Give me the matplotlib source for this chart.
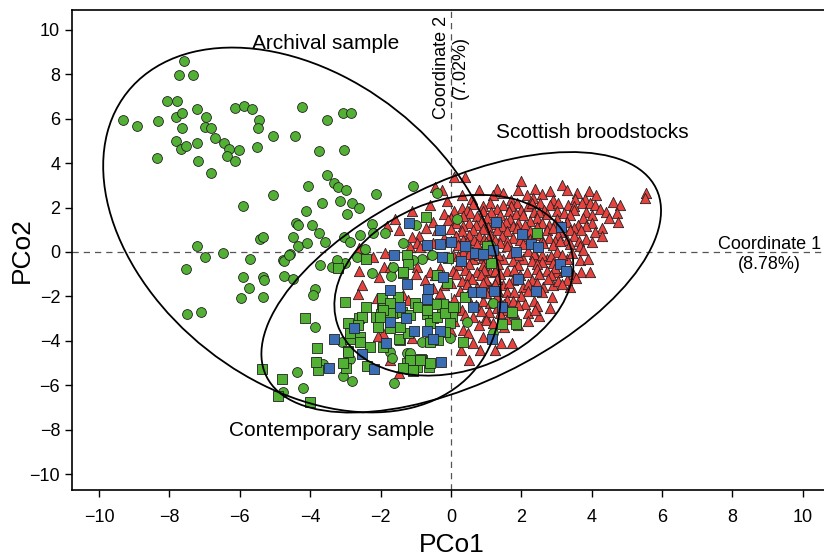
import numpy as np
import matplotlib
matplotlib.use("Agg")
import matplotlib.pyplot as plt
from matplotlib.patches import Ellipse

plt.rcParams['font.family'] = ['Liberation Sans', 'DejaVu Sans']

# green circles (archival sample, plus a few wild fish in the contemporary cloud)
circles = np.array([
    (-7.59, 8.60), (-7.73, 7.97), (-7.33, 7.97), (-8.07, 6.80), (-7.78, 6.80), (-9.32, 5.95),
    (-8.92, 5.68), (-8.32, 5.90), (-7.81, 6.08), (-7.64, 6.26), (-7.64, 5.59), (-7.22, 6.44),
    (-6.96, 6.08), (-6.99, 5.63), (-6.82, 5.59), (-7.81, 5.00), (-7.67, 4.64), (-7.53, 4.77),
    (-7.22, 4.91), (-6.70, 5.14), (-6.45, 4.91), (-6.31, 4.64), (-6.36, 4.32), (-6.14, 4.10),
    (-6.02, 4.59), (-8.35, 4.23), (-7.19, 4.10), (-6.82, 3.56), (-6.14, 6.49), (-5.88, 6.58),
    (-5.65, 6.44), (-5.45, 5.95), (-5.48, 5.59), (-5.51, 4.73), (-5.06, 5.23), (-4.43, 5.23),
    (-4.23, 6.53), (-3.52, 5.95), (-3.07, 6.26), (-2.84, 6.26), (-3.75, 4.55), (-3.04, 4.59),
    (-4.06, 2.97), (-5.06, 2.57), (-5.91, 2.07), (-3.52, 3.47), (-3.32, 3.11), (-3.21, 2.93),
    (-2.98, 2.79), (-3.66, 2.21), (-3.15, 2.30), (-2.81, 2.21), (-2.61, 1.98), (-2.13, 2.61),
    (-4.12, 1.85), (-2.95, 1.71), (-4.40, 1.31), (-4.35, 1.22), (-3.95, 1.22), (-4.49, 0.68),
    (-4.35, 0.27), (-4.09, 0.41), (-3.75, 0.86), (-3.58, 0.45), (-5.43, 0.59), (-5.34, 0.68),
    (-3.04, 0.68), (-7.22, 0.27), (-6.48, -0.05), (-6.99, -0.23), (-4.77, -0.36), (-4.57, -0.09),
    (-2.87, 0.45), (-2.59, 0.77), (-2.24, 1.26), (-2.22, 0.86), (-1.88, 0.86), (-2.44, 0.14),
    (-7.53, -0.77), (-5.71, -0.32), (-5.91, -1.13), (-5.34, -1.13), (-5.31, -1.26), (-5.74, -1.62),
    (-5.97, -2.07), (-5.34, -2.03), (-4.74, -0.41), (-4.74, -1.08), (-4.60, -0.14), (-7.50, -2.79),
    (-7.10, -2.70), (-4.49, -1.22), (-3.86, -1.67), (-3.92, -1.94), (-3.72, -0.59), (-3.38, -0.68),
    (-3.01, -0.50), (-3.86, -3.38), (-4.37, -5.41), (-4.20, -6.13), (-4.77, -6.31), (-3.81, -4.95),
    (-3.64, -5.05), (-3.07, -5.59), (-2.81, -5.81), (-2.24, -0.95), (-1.70, -1.08), (-1.65, -0.68),
    (-2.87, -4.82), (-1.73, -4.50), (-1.68, -4.77), (-1.25, -4.55), (-1.62, -5.90), (-1.16, -4.55),
    (-0.03, -3.87), (0.45, -3.15), (1.19, -3.65), (-0.82, -4.05), (-1.08, 2.97), (-0.40, 2.66),
    (-1.36, 0.41), (-0.99, 1.22), (0.17, 1.49), (-0.82, -0.32), (1.19, -2.30), (-3.10, -4.05),
    (-1.08, -0.36), (1.11, 0.32), (-0.54, -0.14), (-2.67, -0.23), (-3.24, -0.36),
])

# green squares (contemporary sample)
green_sq = np.array([
    (-3.21, -0.72), (-3.01, -2.25), (-4.15, -2.97), (-3.81, -4.32), (-5.37, -5.27), (-4.80, -5.72),
    (-4.91, -6.49), (-4.01, -6.76), (-3.78, -5.32), (-3.84, -4.95), (-2.98, -5.23), (-2.93, -4.46),
    (-2.87, -3.92), (-2.93, -3.20), (-2.59, -3.83), (-2.61, -2.97), (-2.41, -2.48), (-2.39, -5.14),
    (-2.13, -2.93), (-1.96, -2.57), (-1.68, -2.34), (-1.65, -2.75), (-1.99, -2.79), (-1.45, -3.96),
    (-1.36, -0.95), (-1.11, -5.05), (-0.82, -4.86), (-1.02, -2.30), (-1.51, -2.03), (-0.65, -2.30),
    (-1.93, -2.30), (-1.73, -2.75), (-1.48, -3.92), (-1.25, -5.00), (-1.08, -5.36), (-0.85, -4.82),
    (-0.63, -5.18), (-0.97, -5.18), (-0.68, -2.79), (-0.51, -2.97), (-0.26, -2.70), (-0.23, -2.34),
    (0.03, -2.88), (0.11, -2.48), (0.34, -4.05), (1.45, -3.24), (1.73, -2.70), (1.85, -3.24),
    (-0.43, -2.34), (-0.71, 1.58), (-1.25, -0.14), (-2.41, -0.32), (-1.22, -0.54), (-1.36, -0.90),
    (-0.09, -0.27), (1.14, -0.50), (-0.40, -1.04), (-0.11, -1.40), (2.44, 0.86), (1.02, 0.27),
    (0.40, -2.03), (-1.96, -2.07), (-1.73, -2.30), (-1.93, -2.61), (-2.02, -2.93), (-1.39, -2.70),
    (-1.16, -2.84), (-0.94, -2.48), (-0.68, -2.61), (-0.60, -3.20), (-0.40, -2.93), (-0.17, -2.75),
    (-0.03, -3.20), (-0.17, -3.60), (-0.37, -3.96), (-0.60, -4.05), (-1.22, -3.65), (-1.45, -3.38),
    (-1.73, -3.42), (-2.07, -3.38), (-2.53, -2.93), (-2.64, -3.29), (-2.87, -3.65), (-2.93, -4.50),
    (-3.07, -5.00), (-2.59, -4.05), (-2.30, -4.28), (-1.16, -4.86), (-0.88, -4.86), (-0.60, -5.00),
    (-1.08, -5.32), (-1.36, -5.23), (-1.93, -4.28), (0.06, -2.48),
])

# blue squares
blue_sq = np.array([
    (-1.25, -1.44), (-1.73, -1.71), (-1.45, -2.48), (-1.73, -3.15), (-1.28, -2.97), (-1.05, -3.56),
    (-2.76, -3.42), (-3.32, -3.92), (-2.53, -4.59), (-2.19, -5.27), (-3.47, -5.23), (-0.68, -3.56),
    (-0.31, -3.56), (-0.51, -3.92), (-0.28, -4.95), (0.63, -2.48), (1.45, -2.48), (1.16, -3.92),
    (-1.85, -4.10), (-1.19, 1.31), (-0.31, 0.99), (0.00, 0.45), (-0.68, 0.32), (-0.31, 0.36),
    (0.40, 0.27), (0.68, -0.05), (0.91, -0.09), (1.19, 0.09), (-0.26, -0.23), (0.28, -0.41),
    (-1.62, -0.14), (-0.23, -1.13), (1.28, 1.35), (2.02, 0.81), (2.27, 0.36), (2.47, 0.23),
    (1.85, 0.00), (3.13, 1.13), (3.10, -0.54), (3.27, -0.86), (1.90, -1.22), (2.41, -1.76),
    (0.63, -1.80), (0.85, -1.80), (1.22, -1.76), (-0.65, -1.67), (-0.68, -2.12),
])

# red triangles (Scottish broodstocks)
red_tri = np.array([
    (0.09, 3.38), (0.40, 3.38), (1.99, 3.20), (3.15, 3.02), (5.54, 2.66), (5.51, 2.43),
    (-0.45, 2.93), (-0.26, 2.79), (0.80, 2.79), (1.90, 2.79), (2.81, 2.75), (3.92, 2.75),
    (1.30, 2.85), (2.40, 2.85), (3.30, 2.80),
    (1.48, 2.66), (2.16, 2.57), (3.58, 2.66), (4.12, 2.57), (1.20, 2.55), (2.60, 2.60), (0.30, 2.55),
    (2.33, 2.43), (3.52, 2.39), (3.81, 2.39), (1.70, 2.35), (2.90, 2.35), (0.60, 2.40), (-0.10, 2.30),
    (-0.60, 2.12), (0.63, 2.15), (1.11, 2.20), (1.48, 2.10), (1.88, 2.20), (2.19, 2.05), (2.53, 2.20),
    (2.81, 2.10), (3.04, 2.20), (3.32, 2.10), (3.72, 2.20), (3.95, 2.21), (4.09, 2.12), (4.60, 2.25),
    (4.80, 2.12), (0.30, 2.00), (0.90, 2.05), (1.70, 2.05), (2.30, 2.20), (3.50, 2.05),
    (4.23, 1.94), (-1.11, 1.85), (0.10, 1.85), (0.45, 1.90), (0.90, 1.85), (1.30, 1.95), (1.65, 1.85),
    (2.00, 1.90), (2.35, 1.80), (2.65, 1.90), (3.00, 1.85), (3.50, 1.90), (3.85, 1.80),
    (0.55, 1.75), (1.15, 1.78), (1.85, 1.72), (2.50, 1.78), (3.20, 1.75), (4.00, 1.65), (4.40, 1.80),
    (0.74, 1.60), (1.02, 1.55), (1.39, 1.65), (1.68, 1.50), (2.05, 1.65), (2.44, 1.55), (2.73, 1.70),
    (3.01, 1.50), (3.38, 1.65), (3.75, 1.55), (4.72, 1.76), (4.49, 1.53), (0.35, 1.60), (-0.20, 1.70),
    (0.00, 1.55), (-1.59, 1.49),
    (-0.51, 1.35), (-0.09, 1.44), (0.14, 1.30), (4.74, 1.35), (0.50, 1.30), (0.85, 1.35), (1.20, 1.25),
    (1.55, 1.35), (1.90, 1.30), (2.25, 1.40), (2.60, 1.30), (2.95, 1.25), (3.30, 1.35), (3.60, 1.20),
    (4.00, 1.30), (-1.82, 1.17),
    (0.35, 1.15), (0.70, 1.20), (1.05, 1.12), (1.45, 1.18), (1.75, 1.15), (2.10, 1.20), (2.45, 1.12),
    (2.80, 1.20), (3.15, 1.15), (3.50, 1.10), (3.85, 1.15), (4.30, 1.10),
    (-0.40, 0.99), (0.63, 0.99), (0.91, 1.05), (1.59, 0.95), (1.88, 1.10), (2.24, 0.95), (2.73, 1.00),
    (2.90, 1.10), (3.10, 0.90), (3.38, 1.00), (4.09, 0.90), (0.30, 0.95), (0.00, 1.05), (1.30, 1.00),
    (3.70, 1.00), (-0.70, 1.10), (-1.48, 0.99),
    (4.29, 0.72), (0.15, 0.70), (0.50, 0.75), (0.80, 0.70), (1.10, 0.75), (1.45, 0.70), (1.75, 0.65),
    (2.10, 0.70), (2.45, 0.75), (2.80, 0.65), (3.05, 0.75), (3.50, 0.70), (3.85, 0.60), (-0.20, 0.65),
    (-0.90, 0.70), (-1.11, 0.68),
    (0.00, 0.50), (0.35, 0.55), (0.65, 0.55), (0.95, 0.60), (1.25, 0.55), (1.60, 0.50), (1.95, 0.55),
    (2.25, 0.60), (2.60, 0.55), (2.95, 0.50), (3.30, 0.55), (3.65, 0.50), (4.00, 0.45),
    (-0.97, 0.41), (-1.16, 0.23), (0.74, 0.35), (1.39, 0.40), (1.59, 0.25), (2.05, 0.35), (2.61, 0.40),
    (2.90, 0.30), (3.38, 0.35), (3.66, 0.25), (3.75, 0.10), (0.20, 0.30), (0.45, 0.45), (1.00, 0.45),
    (2.30, 0.50), (3.10, 0.50), (-0.50, 0.40), (-0.88, 0.23),
    (0.63, -0.30), (0.91, -0.25), (1.48, -0.30), (2.05, -0.30), (2.44, -0.25), (2.73, -0.30),
    (3.30, -0.30), (3.66, -0.35), (0.35, 0.00), (1.20, 0.05), (1.70, -0.05), (2.20, 0.05), (3.00, 0.00),
    (3.45, -0.05), (-0.60, -0.10), (0.05, -0.15), (-2.22, -0.23), (-2.61, 0.18), (-1.88, -0.05),
    (0.20, -0.20), (0.50, -0.10), (0.80, -0.15), (1.05, -0.10), (1.35, -0.15), (1.90, -0.15),
    (2.35, -0.10), (2.60, -0.15), (2.85, -0.20), (3.15, -0.15), (3.90, -0.30),
    (0.35, -0.40), (1.25, -0.40), (1.75, -0.40), (2.30, -0.40), (2.60, -0.45),
    (-0.97, -0.68), (0.74, -0.90), (1.11, -0.90), (1.59, -0.85), (2.16, -0.90), (2.73, -0.85),
    (3.01, -0.90), (3.38, -0.80), (3.69, -0.90), (3.95, -0.90), (3.47, -0.99), (0.20, -0.60),
    (0.50, -0.55), (0.90, -0.60), (1.35, -0.55), (1.90, -0.60), (2.45, -0.55), (2.90, -0.50),
    (-0.30, -0.70), (-2.61, -0.86), (-1.90, -0.68), (-2.05, -1.13), (-1.73, -0.68),
    (0.05, -0.85), (0.40, -0.80), (0.95, -0.80), (1.25, -0.85), (1.80, -0.80), (2.45, -0.75),
    (2.95, -0.70), (3.20, -0.80), (-0.60, -0.90),
    (0.15, -1.00), (0.50, -1.05), (0.85, -1.05), (1.40, -1.00), (1.95, -1.05), (2.50, -1.00),
    (2.85, -1.05), (3.55, -1.15), (-0.45, -1.05), (-1.00, -1.00),
    (-0.74, -1.26), (0.74, -1.58), (1.11, -1.58), (1.48, -1.50), (2.05, -1.58), (2.61, -1.58),
    (2.90, -1.50), (3.38, -1.58), (3.30, -1.26), (0.30, -1.30), (0.60, -1.20), (1.00, -1.25),
    (1.30, -1.20), (1.75, -1.25), (2.30, -1.25), (2.75, -1.20), (3.05, -1.30), (-0.20, -1.50),
    (-2.53, -1.49), (-2.64, -1.89), (-1.36, -1.94),
    (0.00, -1.40), (0.45, -1.45), (0.90, -1.40), (1.25, -1.45), (1.65, -1.40), (2.20, -1.45),
    (2.45, -1.40), (3.15, -1.45), (-0.50, -1.60),
    (0.25, -1.75), (0.55, -1.70), (1.35, -1.75), (1.60, -1.80), (2.20, -1.75), (2.60, -1.80),
    (-0.30, -1.85),
    (0.10, -2.10), (0.45, -2.00), (0.90, -2.20), (1.30, -2.00), (1.60, -2.15), (2.00, -2.00),
    (2.35, -2.20), (2.87, -2.03), (-0.68, -2.16), (-0.31, -2.30), (-2.10, -2.07), (1.00, -1.85),
    (1.80, -1.80), (-1.22, -2.16),
    (0.70, -2.40), (1.10, -2.30), (1.50, -2.35), (1.75, -2.20), (2.45, -2.45), (-0.05, -2.45),
    (0.63, -2.93), (0.99, -2.93), (1.08, -2.70), (1.59, -2.61), (2.19, -2.75), (2.10, -2.35),
    (2.81, -2.52), (2.50, -2.90), (1.30, -2.50), (0.30, -2.60), (1.90, -2.40),
    (0.40, -2.85), (0.85, -2.65), (1.40, -2.75), (1.80, -2.75), (2.40, -2.60),
    (0.10, -3.10), (1.00, -3.05), (1.60, -3.00), (2.20, -3.10),
    (0.00, -3.56), (0.34, -3.50), (0.48, -3.65), (0.91, -3.83), (0.63, -4.10), (1.50, -3.40),
    (1.90, -3.30), (1.20, -3.20), (0.80, -3.30), (-1.93, -3.65), (-1.11, -3.87), (-2.07, -3.78),
    (0.82, -4.41), (0.28, -4.41), (1.25, -4.41), (1.73, -4.10), (1.42, -4.10), (0.51, -4.86),
    (-1.73, -4.86), (-1.48, -5.45),
])

# confidence ellipses: centre, semi-axes and angle (data units), in the order archival, broodstock, contemporary
ell_cx = [-4.236, 0.291, 0.082]
ell_cy = [0.991, -1.365, -1.497]
ell_a = [8.593, 7.189, 4.242]
ell_b = [5.058, 3.872, 3.180]
ell_angle = [-68.79, -133.30, -115.10]

fig = plt.figure(figsize=(8.24, 5.6), dpi=100)
ax = fig.add_axes([72 / 824, 70 / 560, 759 / 824, 480 / 560])

red = '#e8423f'
green = '#52b034'
blue = '#3b6db5'
edge = '#222222'

ax.axhline(0, color='#555555', lw=0.9, dashes=(5, 4), zorder=1)
ax.axvline(0, color='#555555', lw=0.9, dashes=(5, 4), zorder=1)

ax.scatter(red_tri[:, 0], red_tri[:, 1], marker='^', s=55, c=red, edgecolors=edge, linewidths=0.6, zorder=2)
ax.scatter(circles[:, 0], circles[:, 1], marker='o', s=50, c=green, edgecolors=edge, linewidths=0.6, zorder=3)
ax.scatter(green_sq[:, 0], green_sq[:, 1], marker='s', s=42, c=green, edgecolors=edge, linewidths=0.6, zorder=3)
ax.scatter(blue_sq[:, 0], blue_sq[:, 1], marker='s', s=42, c=blue, edgecolors=edge, linewidths=0.6, zorder=4)

for cx, cy, a, b, ang in zip(ell_cx, ell_cy, ell_a, ell_b, ell_angle):
    ax.add_patch(Ellipse((cx, cy), 2 * a, 2 * b, angle=ang, fill=False, ec='black', lw=1.3, zorder=5))

ax.text(-3.55, 9.4, "Archival sample", fontsize=15, ha='center', va='center')
ax.text(4.03, 5.36, "Scottish broodstocks", fontsize=15, ha='center', va='center')
ax.text(-3.38, -8.02, "Contemporary sample", fontsize=15, ha='center', va='center')
ax.text(9.06, -0.1, "Coordinate 1\n(8.78%)", fontsize=13, ha='center', va='center')
ax.text(0.0, 8.3, "Coordinate 2\n(7.02%)", fontsize=13, ha='center', va='center', rotation=90)

ax.set_xlim(-10.77, 10.8)
ax.set_ylim(-10.72, 10.9)
ax.set_xticks(np.arange(-10, 11, 2))
ax.set_yticks(np.arange(-10, 11, 2))
ax.tick_params(labelsize=13, direction='out', length=5, width=1)
ax.tick_params(axis='x', pad=9)
ax.set_xlabel("PCo1", fontsize=19, labelpad=5)
ax.set_ylabel("PCo2", fontsize=19, labelpad=-3)
for s in ax.spines.values():
    s.set_linewidth(1.2)

fig.savefig("out.png", dpi=100)
